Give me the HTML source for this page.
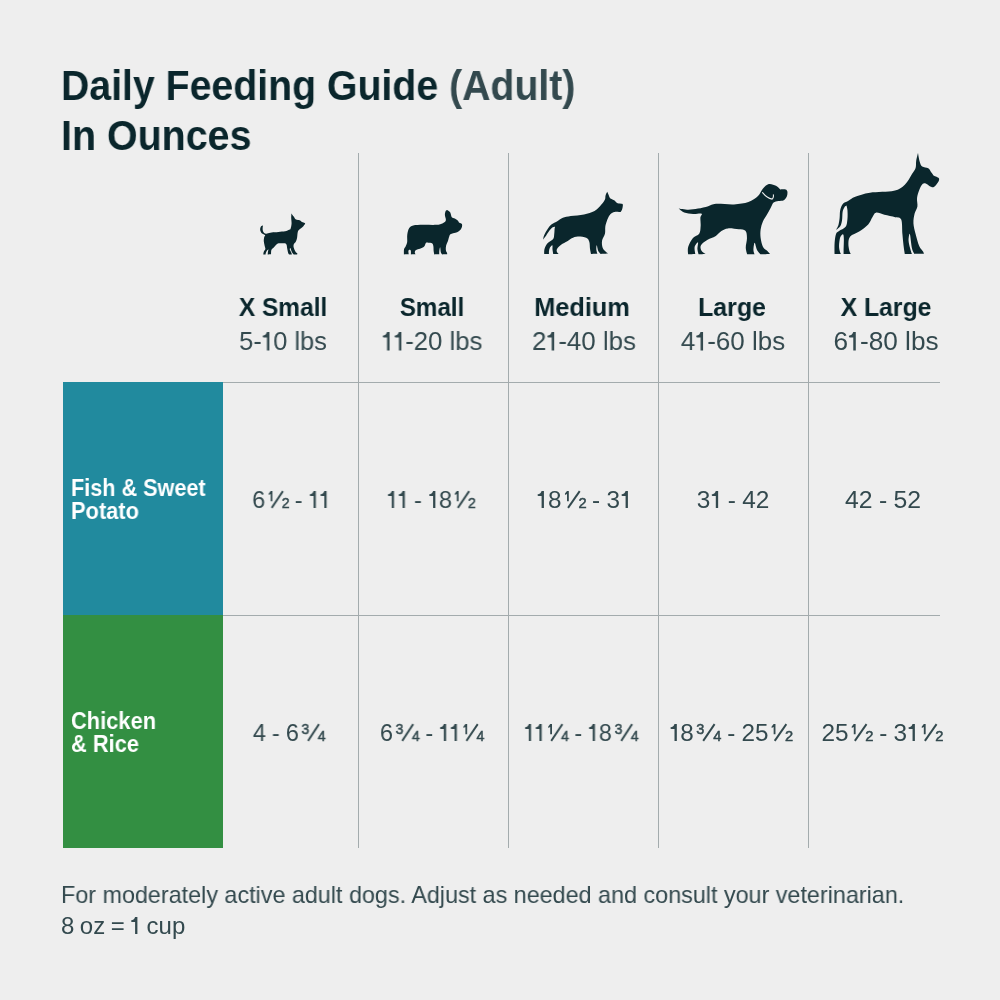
<!DOCTYPE html>
<html><head><meta charset="utf-8">
<style>
html,body{margin:0;padding:0;}
body{width:1000px;height:1000px;background:#eeeeee;position:relative;overflow:hidden;font-family:"Liberation Sans",sans-serif;}
.t{position:absolute;white-space:nowrap;line-height:1;will-change:transform;}
.c{width:300px;text-align:center;transform-origin:50% 50%;}
.l{transform-origin:0 50%;}
.one{overflow:visible;}
.fr{overflow:visible;margin-left:3px;font-family:"Liberation Sans",sans-serif;}
.line{position:absolute;background:#a3abad;}

.title{font-weight:bold;font-size:42px;color:#0a262c;}
.title .ad{color:#33494e;}
.hd{font-weight:bold;font-size:26.5px;color:#0a262c;}
.sub{font-size:26px;color:#33494e;}
.val{font-size:24px;color:#33494e;word-spacing:-0.5px;}
.lab{font-weight:bold;font-size:23px;color:#fff;}
.foot{font-size:24px;color:#33494e;}
.foot2{word-spacing:-1.2px;}

</style></head><body>
<div style="position:absolute;left:63px;top:382px;width:160px;height:233px;background:#218a9e"></div>
<div style="position:absolute;left:63px;top:615px;width:160px;height:233px;background:#338f42"></div>
<div class="line" style="left:223px;top:382px;width:717px;height:1px"></div>
<div class="line" style="left:223px;top:615px;width:717px;height:1px"></div>
<div class="line" style="left:358px;top:153px;width:1px;height:695px"></div>
<div class="line" style="left:508px;top:153px;width:1px;height:695px"></div>
<div class="line" style="left:658px;top:153px;width:1px;height:695px"></div>
<div class="line" style="left:808px;top:153px;width:1px;height:695px"></div>
<svg style="position:absolute;left:0;top:0" width="1000" height="1000" viewBox="0 0 1000 1000">
<g transform="translate(256 208) scale(0.05200)"><path d="M681.00 104.00 C681.00 104.00 710.33 145.17 725.00 165.00 C739.67 184.83 748.83 210.83 769.00 223.00 C789.17 235.17 826.67 230.33 846.00 238.00 C865.33 245.67 870.17 260.67 885.00 269.00 C899.83 277.33 925.17 282.00 935.00 288.00 C944.83 294.00 947.33 295.33 944.00 305.00 C940.67 314.67 924.83 334.00 915.00 346.00 C905.17 358.00 896.50 367.67 885.00 377.00 C873.50 386.33 857.67 392.83 846.00 402.00 C834.33 411.17 822.67 419.00 815.00 432.00 C807.33 445.00 804.17 457.00 800.00 480.00 C795.83 503.00 795.83 541.67 790.00 570.00 C784.17 598.33 775.83 628.33 765.00 650.00 C754.17 671.67 731.67 681.67 725.00 700.00 C718.33 718.33 719.17 736.67 725.00 760.00 C730.83 783.33 748.33 820.83 760.00 840.00 C771.67 859.17 790.00 866.17 795.00 875.00 C800.00 883.83 790.00 893.00 790.00 893.00 C790.00 893.00 730.00 895.00 730.00 895.00 C730.00 895.00 713.33 882.50 705.00 870.00 C696.67 857.50 687.50 836.67 680.00 820.00 C672.50 803.33 665.00 773.33 660.00 770.00 C655.00 766.67 646.67 785.00 650.00 800.00 C653.33 815.00 673.33 844.50 680.00 860.00 C686.67 875.50 690.00 893.00 690.00 893.00 C690.00 893.00 640.00 895.00 640.00 895.00 C640.00 895.00 626.67 889.17 620.00 870.00 C613.33 850.83 605.83 808.33 600.00 780.00 C594.17 751.67 595.00 716.67 585.00 700.00 C575.00 683.33 562.50 683.67 540.00 680.00 C517.50 676.33 473.33 675.50 450.00 678.00 C426.67 680.50 416.67 683.00 400.00 695.00 C383.33 707.00 366.67 732.50 350.00 750.00 C333.33 767.50 310.00 782.50 300.00 800.00 C290.00 817.50 291.67 840.00 290.00 855.00 C288.33 870.00 290.00 890.00 290.00 890.00 C290.00 890.00 225.00 893.00 225.00 893.00 C225.00 893.00 227.50 855.50 230.00 840.00 C232.50 824.50 241.67 805.00 240.00 800.00 C238.33 795.00 228.33 800.00 220.00 810.00 C211.67 820.00 195.83 846.17 190.00 860.00 C184.17 873.83 185.00 893.00 185.00 893.00 C185.00 893.00 140.00 893.00 140.00 893.00 C140.00 893.00 143.33 857.17 150.00 840.00 C156.67 822.83 177.50 810.00 180.00 790.00 C182.50 770.00 170.00 745.00 165.00 720.00 C160.00 695.00 151.17 666.67 150.00 640.00 C148.83 613.33 153.83 579.67 158.00 560.00 C162.17 540.33 183.00 534.50 175.00 522.00 C167.00 509.50 125.83 502.00 110.00 485.00 C94.17 468.00 82.50 441.67 80.00 420.00 C77.50 398.33 85.83 368.67 95.00 355.00 C104.17 341.33 135.00 338.00 135.00 338.00 C135.00 338.00 128.00 372.17 128.00 390.00 C128.00 407.83 127.17 428.00 135.00 445.00 C142.83 462.00 161.67 484.83 175.00 492.00 C188.33 499.17 194.17 491.67 215.00 488.00 C235.83 484.33 264.17 474.67 300.00 470.00 C335.83 465.33 386.67 463.67 430.00 460.00 C473.33 456.33 525.00 454.67 560.00 448.00 C595.00 441.33 622.50 428.00 640.00 420.00 C657.50 412.00 657.67 420.00 665.00 400.00 C672.33 380.00 682.00 334.67 684.00 300.00 C686.00 265.33 677.50 224.67 677.00 192.00 C676.50 159.33 681.00 104.00 681.00 104.00 Z" fill="#0a262c"/>
</g>
<g transform="translate(400 205) scale(0.06600)"><path d="M715.00 75.00 C715.00 75.00 748.33 91.67 760.00 110.00 C771.67 128.33 773.33 169.17 785.00 185.00 C796.67 200.83 815.00 196.67 830.00 205.00 C845.00 213.33 864.17 224.50 875.00 235.00 C885.83 245.50 895.00 268.00 895.00 268.00 C895.00 268.00 927.50 275.50 935.00 285.00 C942.50 294.50 942.50 310.83 940.00 325.00 C937.50 339.17 929.17 357.50 920.00 370.00 C910.83 382.50 898.33 391.67 885.00 400.00 C871.67 408.33 859.17 413.33 840.00 420.00 C820.83 426.67 785.83 430.00 770.00 440.00 C754.17 450.00 752.50 461.67 745.00 480.00 C737.50 498.33 732.50 528.33 725.00 550.00 C717.50 571.67 705.00 588.33 700.00 610.00 C695.00 631.67 693.00 660.83 695.00 680.00 C697.00 699.17 708.67 713.67 712.00 725.00 C715.33 736.33 715.00 748.00 715.00 748.00 C715.00 748.00 640.00 750.00 640.00 750.00 C640.00 750.00 625.33 738.33 620.00 720.00 C614.67 701.67 612.17 643.33 608.00 640.00 C603.83 636.67 597.17 682.00 595.00 700.00 C592.83 718.00 595.00 748.00 595.00 748.00 C595.00 748.00 520.00 750.00 520.00 750.00 C520.00 750.00 512.50 721.67 510.00 700.00 C507.50 678.33 509.17 640.00 505.00 620.00 C500.83 600.00 497.50 588.00 485.00 580.00 C472.50 572.00 445.50 572.83 430.00 572.00 C414.50 571.17 402.67 565.33 392.00 575.00 C381.33 584.67 380.83 615.33 366.00 630.00 C351.17 644.67 323.67 654.33 303.00 663.00 C282.33 671.67 255.17 672.83 242.00 682.00 C228.83 691.17 224.67 707.00 224.00 718.00 C223.33 729.00 238.00 748.00 238.00 748.00 C238.00 748.00 165.00 750.00 165.00 750.00 C165.00 750.00 167.33 704.00 164.00 692.00 C160.67 680.00 151.17 677.33 145.00 678.00 C138.83 678.67 129.00 684.33 127.00 696.00 C125.00 707.67 133.00 748.00 133.00 748.00 C133.00 748.00 60.00 750.00 60.00 750.00 C60.00 750.00 56.83 690.50 61.00 670.00 C65.17 649.50 77.00 645.33 85.00 627.00 C93.00 608.67 104.83 589.50 109.00 560.00 C113.17 530.50 104.83 485.00 110.00 450.00 C115.17 415.00 125.00 373.33 140.00 350.00 C155.00 326.67 165.00 318.33 200.00 310.00 C235.00 301.67 291.67 301.67 350.00 300.00 C408.33 298.33 500.00 304.17 550.00 300.00 C600.00 295.83 625.83 286.67 650.00 275.00 C674.17 263.33 690.00 250.83 695.00 230.00 C700.00 209.17 680.50 173.33 680.00 150.00 C679.50 126.67 686.17 102.50 692.00 90.00 C697.83 77.50 715.00 75.00 715.00 75.00 Z" fill="#0a262c"/>
</g>
<g transform="translate(540 188) scale(0.08800)"><path d="M764.00 44.00 C764.00 44.00 775.17 68.67 780.00 80.00 C784.83 91.33 787.50 104.33 793.00 112.00 C798.50 119.67 804.00 120.83 813.00 126.00 C822.00 131.17 835.50 135.00 847.00 143.00 C858.50 151.00 867.83 167.83 882.00 174.00 C896.17 180.17 922.00 177.00 932.00 180.00 C942.00 183.00 942.00 192.00 942.00 192.00 C942.00 192.00 940.17 215.00 938.00 225.00 C935.83 235.00 932.83 243.83 929.00 252.00 C925.17 260.17 915.00 274.00 915.00 274.00 C915.00 274.00 875.00 268.00 858.00 270.00 C841.00 272.00 825.50 277.33 813.00 286.00 C800.50 294.67 792.17 306.33 783.00 322.00 C773.83 337.67 764.83 360.33 758.00 380.00 C751.17 399.67 745.33 416.67 742.00 440.00 C738.67 463.33 744.17 493.33 738.00 520.00 C731.83 546.67 709.33 573.33 705.00 600.00 C700.67 626.67 705.33 659.67 712.00 680.00 C718.67 700.33 735.00 711.17 745.00 722.00 C755.00 732.83 772.00 745.00 772.00 745.00 C772.00 745.00 690.00 750.00 690.00 750.00 C690.00 750.00 669.50 731.67 662.00 715.00 C654.50 698.33 648.67 652.50 645.00 650.00 C641.33 647.50 638.83 683.67 640.00 700.00 C641.17 716.33 652.00 748.00 652.00 748.00 C652.00 748.00 580.00 750.00 580.00 750.00 C580.00 750.00 571.33 713.33 568.00 690.00 C564.67 666.67 567.17 630.83 560.00 610.00 C552.83 589.17 546.67 575.00 525.00 565.00 C503.33 555.00 457.50 549.17 430.00 550.00 C402.50 550.83 380.00 560.83 360.00 570.00 C340.00 579.17 330.00 592.50 310.00 605.00 C290.00 617.50 259.17 630.83 240.00 645.00 C220.83 659.17 203.00 676.67 195.00 690.00 C187.00 703.33 189.17 715.00 192.00 725.00 C194.83 735.00 212.00 750.00 212.00 750.00 C212.00 750.00 150.00 750.00 150.00 750.00 C150.00 750.00 143.67 716.67 142.00 700.00 C140.33 683.33 145.00 653.33 140.00 650.00 C135.00 646.67 118.33 668.33 112.00 680.00 C105.67 691.67 103.67 708.33 102.00 720.00 C100.33 731.67 102.00 750.00 102.00 750.00 C102.00 750.00 48.00 750.00 48.00 750.00 C48.00 750.00 45.33 710.83 52.00 690.00 C58.67 669.17 71.67 643.33 88.00 625.00 C104.33 606.67 137.67 597.50 150.00 580.00 C162.33 562.50 159.33 539.67 162.00 520.00 C164.67 500.33 164.67 475.33 166.00 462.00 C167.33 448.67 174.33 442.00 170.00 440.00 C165.67 438.00 151.67 441.00 140.00 450.00 C128.33 459.00 113.00 477.00 100.00 494.00 C87.00 511.00 72.83 536.50 62.00 552.00 C51.17 567.50 35.00 587.00 35.00 587.00 C35.00 587.00 38.50 558.17 46.00 540.00 C53.50 521.83 67.67 497.67 80.00 478.00 C92.33 458.33 104.17 436.67 120.00 422.00 C135.83 407.33 160.83 398.33 175.00 390.00 C189.17 381.67 190.83 380.67 205.00 372.00 C219.17 363.33 235.83 347.00 260.00 338.00 C284.17 329.00 310.00 324.33 350.00 318.00 C390.00 311.67 455.00 309.33 500.00 300.00 C545.00 290.67 586.67 281.17 620.00 262.00 C653.33 242.83 680.33 207.00 700.00 185.00 C719.67 163.00 730.50 146.67 738.00 130.00 C745.50 113.33 740.67 99.33 745.00 85.00 C749.33 70.67 764.00 44.00 764.00 44.00 Z" fill="#0a262c"/>
</g>
<g transform="translate(674 178) scale(0.12000)"><path d="M790.00 50.00 C808.33 45.83 834.17 57.50 850.00 65.00 C865.83 72.50 885.00 95.00 885.00 95.00 C885.00 95.00 920.00 91.67 930.00 95.00 C940.00 98.33 943.33 105.00 945.00 115.00 C946.67 125.00 945.00 143.33 940.00 155.00 C935.00 166.67 926.67 178.83 915.00 185.00 C903.33 191.17 884.17 188.67 870.00 192.00 C855.83 195.33 840.83 195.33 830.00 205.00 C819.17 214.67 814.17 233.33 805.00 250.00 C795.83 266.67 785.83 285.83 775.00 305.00 C764.17 324.17 748.83 344.17 740.00 365.00 C731.17 385.83 725.00 407.50 722.00 430.00 C719.00 452.50 718.67 475.83 722.00 500.00 C725.33 524.17 732.33 556.67 742.00 575.00 C751.67 593.33 770.33 600.33 780.00 610.00 C789.67 619.67 800.00 633.00 800.00 633.00 C800.00 633.00 722.00 636.00 722.00 636.00 C722.00 636.00 700.33 616.00 692.00 600.00 C683.67 584.00 677.00 540.00 672.00 540.00 C667.00 540.00 662.00 584.00 662.00 600.00 C662.00 616.00 672.00 636.00 672.00 636.00 C672.00 636.00 610.00 636.00 610.00 636.00 C610.00 636.00 598.33 602.67 598.00 580.00 C597.67 557.33 608.50 523.33 608.00 500.00 C607.50 476.67 606.33 452.00 595.00 440.00 C583.67 428.00 564.17 431.33 540.00 428.00 C515.83 424.67 474.17 417.67 450.00 420.00 C425.83 422.33 412.50 431.17 395.00 442.00 C377.50 452.83 364.17 472.83 345.00 485.00 C325.83 497.17 300.00 502.50 280.00 515.00 C260.00 527.50 233.67 545.00 225.00 560.00 C216.33 575.00 221.83 592.83 228.00 605.00 C234.17 617.17 262.00 633.00 262.00 633.00 C262.00 633.00 205.00 636.00 205.00 636.00 C205.00 636.00 195.83 606.83 195.00 590.00 C194.17 573.17 203.83 537.50 200.00 535.00 C196.17 532.50 175.67 558.67 172.00 575.00 C168.33 591.33 178.00 633.00 178.00 633.00 C178.00 633.00 118.00 636.00 118.00 636.00 C118.00 636.00 111.33 597.67 118.00 575.00 C124.67 552.33 142.67 518.33 158.00 500.00 C173.33 481.67 199.33 481.67 210.00 465.00 C220.67 448.33 220.33 422.50 222.00 400.00 C223.67 377.50 218.67 347.00 220.00 330.00 C221.33 313.00 240.00 303.00 230.00 298.00 C220.00 293.00 184.17 301.67 160.00 300.00 C135.83 298.33 105.00 295.50 85.00 288.00 C65.00 280.50 40.00 255.00 40.00 255.00 C40.00 255.00 93.33 265.00 120.00 265.00 C146.67 265.00 172.50 260.00 200.00 255.00 C227.50 250.00 260.00 241.67 285.00 235.00 C310.00 228.33 314.17 217.50 350.00 215.00 C385.83 212.50 455.00 222.50 500.00 220.00 C545.00 217.50 586.67 211.67 620.00 200.00 C653.33 188.33 680.00 168.33 700.00 150.00 C720.00 131.67 725.00 106.67 740.00 90.00 C755.00 73.33 771.67 54.17 790.00 50.00 Z" fill="#0a262c"/>
<path d="M738 122 Q775 168 818 176 Q832 165 828 140" fill="none" stroke="#eeeeee" stroke-width="9" stroke-linecap="round"/>
</g>
<g transform="translate(828 150) scale(0.12000)"><path d="M750.00 25.00 C750.00 25.00 759.17 81.17 765.00 100.00 C770.83 118.83 773.33 129.33 785.00 138.00 C796.67 146.67 822.50 144.17 835.00 152.00 C847.50 159.83 852.17 174.50 860.00 185.00 C867.83 195.50 882.00 215.00 882.00 215.00 C882.00 215.00 912.83 225.83 920.00 232.00 C927.17 238.17 927.50 243.17 925.00 252.00 C922.50 260.83 912.83 275.33 905.00 285.00 C897.17 294.67 888.00 307.50 878.00 310.00 C868.00 312.50 855.50 305.00 845.00 300.00 C834.50 295.00 824.17 283.00 815.00 280.00 C805.83 277.00 798.83 273.67 790.00 282.00 C781.17 290.33 770.00 310.33 762.00 330.00 C754.00 349.67 744.83 376.67 742.00 400.00 C739.17 423.33 748.33 448.33 745.00 470.00 C741.67 491.67 727.50 506.67 722.00 530.00 C716.50 553.33 710.67 581.67 712.00 610.00 C713.33 638.33 722.00 668.33 730.00 700.00 C738.00 731.67 749.67 775.83 760.00 800.00 C770.33 824.17 785.33 834.17 792.00 845.00 C798.67 855.83 800.00 865.00 800.00 865.00 C800.00 865.00 722.00 866.00 722.00 866.00 C722.00 866.00 706.67 847.67 700.00 820.00 C693.33 792.33 686.67 710.00 682.00 700.00 C677.33 690.00 670.33 735.83 672.00 760.00 C673.67 784.17 687.33 827.33 692.00 845.00 C696.67 862.67 700.00 866.00 700.00 866.00 C700.00 866.00 640.00 866.00 640.00 866.00 C640.00 866.00 633.33 827.67 630.00 800.00 C626.67 772.33 623.33 736.67 620.00 700.00 C616.67 663.33 620.00 603.33 610.00 580.00 C600.00 556.67 583.33 566.67 560.00 560.00 C536.67 553.33 496.67 546.33 470.00 540.00 C443.33 533.67 416.67 518.67 400.00 522.00 C383.33 525.33 380.83 543.67 370.00 560.00 C359.17 576.33 353.33 600.00 335.00 620.00 C316.67 640.00 285.00 663.33 260.00 680.00 C235.00 696.67 200.00 703.33 185.00 720.00 C170.00 736.67 171.17 760.00 170.00 780.00 C168.83 800.00 174.67 825.67 178.00 840.00 C181.33 854.33 190.00 866.00 190.00 866.00 C190.00 866.00 130.00 866.00 130.00 866.00 C130.00 866.00 129.67 861.00 130.00 840.00 C130.33 819.00 132.83 763.00 132.00 740.00 C131.17 717.00 130.00 704.00 125.00 702.00 C120.00 700.00 107.50 711.67 102.00 728.00 C96.50 744.33 92.33 779.67 92.00 800.00 C91.67 820.33 97.33 839.00 100.00 850.00 C102.67 861.00 108.00 866.00 108.00 866.00 C108.00 866.00 55.00 866.00 55.00 866.00 C55.00 866.00 53.00 802.67 55.00 775.00 C57.00 747.33 60.83 716.67 67.00 700.00 C73.17 683.33 78.67 685.00 92.00 675.00 C105.33 665.00 135.33 656.67 147.00 640.00 C158.67 623.33 159.50 598.33 162.00 575.00 C164.50 551.67 163.33 518.83 162.00 500.00 C160.67 481.17 154.00 462.00 154.00 462.00 C154.00 462.00 143.33 466.17 138.00 475.00 C132.67 483.83 125.50 496.67 122.00 515.00 C118.50 533.33 120.33 565.00 117.00 585.00 C113.67 605.00 110.33 621.67 102.00 635.00 C93.67 648.33 67.00 665.00 67.00 665.00 C67.00 665.00 82.00 641.67 87.00 625.00 C92.00 608.33 94.50 585.83 97.00 565.00 C99.50 544.17 97.33 519.50 102.00 500.00 C106.67 480.50 114.17 460.50 125.00 448.00 C135.83 435.50 150.00 434.67 167.00 425.00 C184.00 415.33 196.50 401.50 227.00 390.00 C257.50 378.50 296.17 364.33 350.00 356.00 C403.83 347.67 501.67 351.00 550.00 340.00 C598.33 329.00 615.00 313.33 640.00 290.00 C665.00 266.67 685.00 223.33 700.00 200.00 C715.00 176.67 724.17 168.33 730.00 150.00 C735.83 131.67 731.67 110.83 735.00 90.00 C738.33 69.17 750.00 25.00 750.00 25.00 Z" fill="#0a262c"/>
</g>
</svg>
<div class="t l title" style="left:61.00px;top:65.00px;transform:scaleX(0.9340)">Daily Feeding Guide <span class="ad">(Adult)</span></div>
<div class="t l title" style="left:61.00px;top:115.00px;transform:scaleX(0.9380)">In Ounces</div>
<div class="t c hd" style="left:132.85px;top:294.00px;transform:scaleX(0.9239)">X Small</div>
<div class="t c sub" style="left:132.85px;top:327.90px;transform:scaleX(0.9743)">5-<svg class="one" width="11.92" height="18.42" viewBox="0 0 11 17" preserveAspectRatio="none"><path d="M5.1 0 H7.4 V17 H5.1 V5.0 H2.0 Q1.1 5.0 1.1 4.1 V3.4 Q4.0 3.2 5.1 0 Z" fill="#33494e"/></svg>0 lbs</div>
<div class="t c val" style="left:141.49px;top:487.50px;transform:scaleX(0.9772)">6<svg class="fr" width="21" height="17" viewBox="0 0 21 17"><path d="M2.2 0 H4 V10.2 H2.2 V2.9 L0.2 4.1 V2.4 Z" fill="#33494e"/><line x1="3.25" y1="16.9" x2="14.75" y2="0.1" stroke="#33494e" stroke-width="1.9"/><text x="21.6" y="16.9" text-anchor="end" font-size="14.5" fill="#33494e" stroke="#33494e" stroke-width="0.5">2</text></svg> - <svg class="one" width="11.00" height="17.00" viewBox="0 0 11 17" preserveAspectRatio="none"><path d="M5.1 0 H7.4 V17 H5.1 V5.0 H2.0 Q1.1 5.0 1.1 4.1 V3.4 Q4.0 3.2 5.1 0 Z" fill="#33494e"/></svg><svg class="one" width="11.00" height="17.00" viewBox="0 0 11 17" preserveAspectRatio="none"><path d="M5.1 0 H7.4 V17 H5.1 V5.0 H2.0 Q1.1 5.0 1.1 4.1 V3.4 Q4.0 3.2 5.1 0 Z" fill="#33494e"/></svg></div>
<div class="t c val" style="left:139.20px;top:720.50px;transform:scaleX(0.9760)">4 - 6<svg class="fr" width="24" height="17" viewBox="0 0 24 17"><text x="-0.3" y="10.25" font-size="14.5" textLength="8.0" lengthAdjust="spacingAndGlyphs" fill="#33494e" stroke="#33494e" stroke-width="0.5">3</text><line x1="6.5" y1="16.9" x2="17.75" y2="0.1" stroke="#33494e" stroke-width="1.9"/><text x="24.6" y="16.9" text-anchor="end" font-size="14.5" fill="#33494e" stroke="#33494e" stroke-width="0.5">4</text></svg></div>
<div class="t c hd" style="left:281.65px;top:294.00px;transform:scaleX(0.9136)">Small</div>
<div class="t c sub" style="left:282.30px;top:327.90px;transform:scaleX(0.9880)"><svg class="one" width="11.92" height="18.42" viewBox="0 0 11 17" preserveAspectRatio="none"><path d="M5.1 0 H7.4 V17 H5.1 V5.0 H2.0 Q1.1 5.0 1.1 4.1 V3.4 Q4.0 3.2 5.1 0 Z" fill="#33494e"/></svg><svg class="one" width="11.92" height="18.42" viewBox="0 0 11 17" preserveAspectRatio="none"><path d="M5.1 0 H7.4 V17 H5.1 V5.0 H2.0 Q1.1 5.0 1.1 4.1 V3.4 Q4.0 3.2 5.1 0 Z" fill="#33494e"/></svg>-20 lbs</div>
<div class="t c val" style="left:281.20px;top:487.50px;transform:scaleX(0.9844)"><svg class="one" width="11.00" height="17.00" viewBox="0 0 11 17" preserveAspectRatio="none"><path d="M5.1 0 H7.4 V17 H5.1 V5.0 H2.0 Q1.1 5.0 1.1 4.1 V3.4 Q4.0 3.2 5.1 0 Z" fill="#33494e"/></svg><svg class="one" width="11.00" height="17.00" viewBox="0 0 11 17" preserveAspectRatio="none"><path d="M5.1 0 H7.4 V17 H5.1 V5.0 H2.0 Q1.1 5.0 1.1 4.1 V3.4 Q4.0 3.2 5.1 0 Z" fill="#33494e"/></svg> - <svg class="one" width="11.00" height="17.00" viewBox="0 0 11 17" preserveAspectRatio="none"><path d="M5.1 0 H7.4 V17 H5.1 V5.0 H2.0 Q1.1 5.0 1.1 4.1 V3.4 Q4.0 3.2 5.1 0 Z" fill="#33494e"/></svg>8<svg class="fr" width="21" height="17" viewBox="0 0 21 17"><path d="M2.2 0 H4 V10.2 H2.2 V2.9 L0.2 4.1 V2.4 Z" fill="#33494e"/><line x1="3.25" y1="16.9" x2="14.75" y2="0.1" stroke="#33494e" stroke-width="1.9"/><text x="21.6" y="16.9" text-anchor="end" font-size="14.5" fill="#33494e" stroke="#33494e" stroke-width="0.5">2</text></svg></div>
<div class="t c val" style="left:281.50px;top:720.50px;transform:scaleX(0.9774)">6<svg class="fr" width="24" height="17" viewBox="0 0 24 17"><text x="-0.3" y="10.25" font-size="14.5" textLength="8.0" lengthAdjust="spacingAndGlyphs" fill="#33494e" stroke="#33494e" stroke-width="0.5">3</text><line x1="6.5" y1="16.9" x2="17.75" y2="0.1" stroke="#33494e" stroke-width="1.9"/><text x="24.6" y="16.9" text-anchor="end" font-size="14.5" fill="#33494e" stroke="#33494e" stroke-width="0.5">4</text></svg> - <svg class="one" width="11.00" height="17.00" viewBox="0 0 11 17" preserveAspectRatio="none"><path d="M5.1 0 H7.4 V17 H5.1 V5.0 H2.0 Q1.1 5.0 1.1 4.1 V3.4 Q4.0 3.2 5.1 0 Z" fill="#33494e"/></svg><svg class="one" width="11.00" height="17.00" viewBox="0 0 11 17" preserveAspectRatio="none"><path d="M5.1 0 H7.4 V17 H5.1 V5.0 H2.0 Q1.1 5.0 1.1 4.1 V3.4 Q4.0 3.2 5.1 0 Z" fill="#33494e"/></svg><svg class="fr" width="21" height="17" viewBox="0 0 21 17"><path d="M2.2 0 H4 V10.2 H2.2 V2.9 L0.2 4.1 V2.4 Z" fill="#33494e"/><line x1="3.25" y1="16.9" x2="14.75" y2="0.1" stroke="#33494e" stroke-width="1.9"/><text x="21.6" y="16.9" text-anchor="end" font-size="14.5" fill="#33494e" stroke="#33494e" stroke-width="0.5">4</text></svg></div>
<div class="t c hd" style="left:432.30px;top:294.00px;transform:scaleX(0.9542)">Medium</div>
<div class="t c sub" style="left:433.70px;top:327.90px;transform:scaleX(0.9943)">2<svg class="one" width="11.92" height="18.42" viewBox="0 0 11 17" preserveAspectRatio="none"><path d="M5.1 0 H7.4 V17 H5.1 V5.0 H2.0 Q1.1 5.0 1.1 4.1 V3.4 Q4.0 3.2 5.1 0 Z" fill="#33494e"/></svg>-40 lbs</div>
<div class="t c val" style="left:433.80px;top:487.50px;transform:scaleX(1.0119)"><svg class="one" width="11.00" height="17.00" viewBox="0 0 11 17" preserveAspectRatio="none"><path d="M5.1 0 H7.4 V17 H5.1 V5.0 H2.0 Q1.1 5.0 1.1 4.1 V3.4 Q4.0 3.2 5.1 0 Z" fill="#33494e"/></svg>8<svg class="fr" width="21" height="17" viewBox="0 0 21 17"><path d="M2.2 0 H4 V10.2 H2.2 V2.9 L0.2 4.1 V2.4 Z" fill="#33494e"/><line x1="3.25" y1="16.9" x2="14.75" y2="0.1" stroke="#33494e" stroke-width="1.9"/><text x="21.6" y="16.9" text-anchor="end" font-size="14.5" fill="#33494e" stroke="#33494e" stroke-width="0.5">2</text></svg> - 3<svg class="one" width="11.00" height="17.00" viewBox="0 0 11 17" preserveAspectRatio="none"><path d="M5.1 0 H7.4 V17 H5.1 V5.0 H2.0 Q1.1 5.0 1.1 4.1 V3.4 Q4.0 3.2 5.1 0 Z" fill="#33494e"/></svg></div>
<div class="t c val" style="left:430.95px;top:720.50px;transform:scaleX(0.9684)"><svg class="one" width="11.00" height="17.00" viewBox="0 0 11 17" preserveAspectRatio="none"><path d="M5.1 0 H7.4 V17 H5.1 V5.0 H2.0 Q1.1 5.0 1.1 4.1 V3.4 Q4.0 3.2 5.1 0 Z" fill="#33494e"/></svg><svg class="one" width="11.00" height="17.00" viewBox="0 0 11 17" preserveAspectRatio="none"><path d="M5.1 0 H7.4 V17 H5.1 V5.0 H2.0 Q1.1 5.0 1.1 4.1 V3.4 Q4.0 3.2 5.1 0 Z" fill="#33494e"/></svg><svg class="fr" width="21" height="17" viewBox="0 0 21 17"><path d="M2.2 0 H4 V10.2 H2.2 V2.9 L0.2 4.1 V2.4 Z" fill="#33494e"/><line x1="3.25" y1="16.9" x2="14.75" y2="0.1" stroke="#33494e" stroke-width="1.9"/><text x="21.6" y="16.9" text-anchor="end" font-size="14.5" fill="#33494e" stroke="#33494e" stroke-width="0.5">4</text></svg> - <svg class="one" width="11.00" height="17.00" viewBox="0 0 11 17" preserveAspectRatio="none"><path d="M5.1 0 H7.4 V17 H5.1 V5.0 H2.0 Q1.1 5.0 1.1 4.1 V3.4 Q4.0 3.2 5.1 0 Z" fill="#33494e"/></svg>8<svg class="fr" width="24" height="17" viewBox="0 0 24 17"><text x="-0.3" y="10.25" font-size="14.5" textLength="8.0" lengthAdjust="spacingAndGlyphs" fill="#33494e" stroke="#33494e" stroke-width="0.5">3</text><line x1="6.5" y1="16.9" x2="17.75" y2="0.1" stroke="#33494e" stroke-width="1.9"/><text x="24.6" y="16.9" text-anchor="end" font-size="14.5" fill="#33494e" stroke="#33494e" stroke-width="0.5">4</text></svg></div>
<div class="t c hd" style="left:582.20px;top:294.00px;transform:scaleX(0.9416)">Large</div>
<div class="t c sub" style="left:582.50px;top:327.90px;transform:scaleX(0.9981)">4<svg class="one" width="11.92" height="18.42" viewBox="0 0 11 17" preserveAspectRatio="none"><path d="M5.1 0 H7.4 V17 H5.1 V5.0 H2.0 Q1.1 5.0 1.1 4.1 V3.4 Q4.0 3.2 5.1 0 Z" fill="#33494e"/></svg>-60 lbs</div>
<div class="t c val" style="left:582.70px;top:487.50px;transform:scaleX(1.0176)">3<svg class="one" width="11.00" height="17.00" viewBox="0 0 11 17" preserveAspectRatio="none"><path d="M5.1 0 H7.4 V17 H5.1 V5.0 H2.0 Q1.1 5.0 1.1 4.1 V3.4 Q4.0 3.2 5.1 0 Z" fill="#33494e"/></svg> - 42</div>
<div class="t c val" style="left:581.15px;top:720.50px;transform:scaleX(1.0106)"><svg class="one" width="11.00" height="17.00" viewBox="0 0 11 17" preserveAspectRatio="none"><path d="M5.1 0 H7.4 V17 H5.1 V5.0 H2.0 Q1.1 5.0 1.1 4.1 V3.4 Q4.0 3.2 5.1 0 Z" fill="#33494e"/></svg>8<svg class="fr" width="24" height="17" viewBox="0 0 24 17"><text x="-0.3" y="10.25" font-size="14.5" textLength="8.0" lengthAdjust="spacingAndGlyphs" fill="#33494e" stroke="#33494e" stroke-width="0.5">3</text><line x1="6.5" y1="16.9" x2="17.75" y2="0.1" stroke="#33494e" stroke-width="1.9"/><text x="24.6" y="16.9" text-anchor="end" font-size="14.5" fill="#33494e" stroke="#33494e" stroke-width="0.5">4</text></svg> - 25<svg class="fr" width="21" height="17" viewBox="0 0 21 17"><path d="M2.2 0 H4 V10.2 H2.2 V2.9 L0.2 4.1 V2.4 Z" fill="#33494e"/><line x1="3.25" y1="16.9" x2="14.75" y2="0.1" stroke="#33494e" stroke-width="1.9"/><text x="21.6" y="16.9" text-anchor="end" font-size="14.5" fill="#33494e" stroke="#33494e" stroke-width="0.5">2</text></svg></div>
<div class="t c hd" style="left:736.15px;top:294.00px;transform:scaleX(0.9346)">X Large</div>
<div class="t c sub" style="left:736.30px;top:327.90px;transform:scaleX(1.0077)">6<svg class="one" width="11.92" height="18.42" viewBox="0 0 11 17" preserveAspectRatio="none"><path d="M5.1 0 H7.4 V17 H5.1 V5.0 H2.0 Q1.1 5.0 1.1 4.1 V3.4 Q4.0 3.2 5.1 0 Z" fill="#33494e"/></svg>-80 lbs</div>
<div class="t c val" style="left:732.75px;top:487.50px;transform:scaleX(1.0321)">42 - 52</div>
<div class="t c val" style="left:731.50px;top:720.50px;transform:scaleX(1.0151)">25<svg class="fr" width="21" height="17" viewBox="0 0 21 17"><path d="M2.2 0 H4 V10.2 H2.2 V2.9 L0.2 4.1 V2.4 Z" fill="#33494e"/><line x1="3.25" y1="16.9" x2="14.75" y2="0.1" stroke="#33494e" stroke-width="1.9"/><text x="21.6" y="16.9" text-anchor="end" font-size="14.5" fill="#33494e" stroke="#33494e" stroke-width="0.5">2</text></svg> - 3<svg class="one" width="11.00" height="17.00" viewBox="0 0 11 17" preserveAspectRatio="none"><path d="M5.1 0 H7.4 V17 H5.1 V5.0 H2.0 Q1.1 5.0 1.1 4.1 V3.4 Q4.0 3.2 5.1 0 Z" fill="#33494e"/></svg><svg class="fr" width="21" height="17" viewBox="0 0 21 17"><path d="M2.2 0 H4 V10.2 H2.2 V2.9 L0.2 4.1 V2.4 Z" fill="#33494e"/><line x1="3.25" y1="16.9" x2="14.75" y2="0.1" stroke="#33494e" stroke-width="1.9"/><text x="21.6" y="16.9" text-anchor="end" font-size="14.5" fill="#33494e" stroke="#33494e" stroke-width="0.5">2</text></svg></div>
<div class="t l lab" style="left:71.00px;top:477.00px;transform:scaleX(0.9400)">Fish &amp; Sweet</div>
<div class="t l lab" style="left:71.00px;top:500.00px;transform:scaleX(0.9500)">Potato</div>
<div class="t l lab" style="left:71.00px;top:710.00px;transform:scaleX(0.9500)">Chicken</div>
<div class="t l lab" style="left:71.00px;top:733.00px;transform:scaleX(0.9500)">&amp; Rice</div>
<div class="t l foot" style="left:60.50px;top:883.00px;transform:scaleX(0.9724)">For moderately active adult dogs. Adjust as needed and consult your veterinarian.</div>
<div class="t l foot foot2" style="left:61.00px;top:913.50px;transform:scaleX(1.0000)">8 oz = <svg class="one" width="11.00" height="17.00" viewBox="0 0 11 17" preserveAspectRatio="none"><path d="M5.1 0 H7.4 V17 H5.1 V5.0 H2.0 Q1.1 5.0 1.1 4.1 V3.4 Q4.0 3.2 5.1 0 Z" fill="#33494e"/></svg> cup</div>
</body></html>
